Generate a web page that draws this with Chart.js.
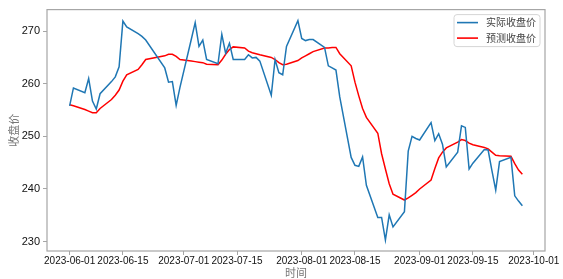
<!DOCTYPE html>
<html><head><meta charset="utf-8">
<script src="https://cdn.jsdelivr.net/npm/chart.js@4.4.1/dist/chart.umd.min.js"></script>
<style>html,body{margin:0;padding:0;background:#fff;overflow:hidden}#wrap{width:563px;height:279px}</style>
</head><body><div id="wrap"><canvas id="c" width="563" height="279"></canvas></div>
<script>
const dates = [
 '2023-06-01','2023-06-02','2023-06-05','2023-06-06','2023-06-07','2023-06-08','2023-06-09','2023-06-12','2023-06-13','2023-06-14',
 '2023-06-15','2023-06-16','2023-06-19','2023-06-20','2023-06-21','2023-06-26','2023-06-27','2023-06-28','2023-06-29','2023-06-30',
 '2023-07-03','2023-07-04','2023-07-05','2023-07-06','2023-07-07','2023-07-10','2023-07-11','2023-07-12','2023-07-13','2023-07-14',
 '2023-07-17','2023-07-18','2023-07-19','2023-07-20','2023-07-21','2023-07-24','2023-07-25','2023-07-26','2023-07-27','2023-07-28','2023-07-31',
 '2023-08-01','2023-08-02','2023-08-03','2023-08-04','2023-08-07','2023-08-08','2023-08-09','2023-08-10','2023-08-11','2023-08-14',
 '2023-08-15','2023-08-16','2023-08-17','2023-08-18','2023-08-21','2023-08-22','2023-08-23','2023-08-24','2023-08-25','2023-08-28',
 '2023-08-29','2023-08-30','2023-08-31',
 '2023-09-01','2023-09-04','2023-09-05','2023-09-06','2023-09-07','2023-09-08','2023-09-11','2023-09-12','2023-09-13','2023-09-14',
 '2023-09-15','2023-09-18','2023-09-19','2023-09-20','2023-09-21','2023-09-22','2023-09-25','2023-09-26','2023-09-27','2023-09-28'
];
const actual = [
 255.8,259.2,258.3,261.0,256.7,255.2,258.1,260.4,261.3,263.2,
 271.9,270.8,269.5,269.0,268.3,263.0,260.3,260.4,255.9,259.3,
 268.5,271.6,267.1,268.3,264.6,263.8,269.4,265.8,267.7,264.6,
 264.6,265.5,264.9,265.0,264.3,257.8,264.6,262.1,261.7,267.1,272.0,
 268.6,268.2,268.4,268.4,266.9,263.4,263.0,262.6,257.5,246.0,
 244.5,244.3,246.1,240.7,234.6,234.6,230.3,235.1,232.8,235.7,
 247.2,250.0,249.6,
 249.3,252.6,249.2,250.5,248.5,244.2,247.0,252.0,251.7,243.8,
 244.9,247.5,247.4,243.5,239.8,245.2,246.0,238.7,237.7,236.8
];
const predicted = [
 256.0,255.8,255.1,254.8,254.5,254.5,255.3,257.0,257.8,258.8,
 260.5,261.7,262.7,263.6,264.6,265.3,265.6,265.6,265.2,264.6,
 264.3,264.2,264.1,264.0,263.7,263.6,264.5,265.6,266.5,267.0,
 266.8,266.2,265.9,265.7,265.5,265.0,264.6,264.0,263.6,263.7,264.4,
 264.9,265.3,265.7,266.1,266.8,266.8,266.9,266.9,265.7,263.4,
 260.3,257.7,255.3,253.6,250.6,246.7,243.8,241.0,239.0,237.9,
 238.3,238.8,239.3,
 240.0,241.7,243.9,245.9,247.0,247.8,248.9,249.4,249.2,248.7,
 248.4,247.9,247.6,247.0,246.4,246.3,246.2,244.8,243.6,242.8
];
const xTickLabels = ['2023-06-01','2023-06-15','2023-07-01','2023-07-15','2023-08-01','2023-08-15','2023-09-01','2023-09-15','2023-10-01'];
const yTickValues = [230,240,250,260,270];
const seriesNames = ['实际收盘价','预测收盘价'];
const seriesColors = ['#1f77b4','#ff0000'];
const xTitle = '时间';
const yTitle = '收盘价';

const DAY = 86400000;
const t0 = Date.parse(dates[0] + 'T00:00:00Z');
const dayOf = s => (Date.parse(s + 'T00:00:00Z') - t0) / DAY;

const xs = dates.map(dayOf);
const xMin0 = Math.min(...xs), xMax0 = Math.max(...xs);
const allY = actual.concat(predicted);
const yMin0 = Math.min(...allY), yMax0 = Math.max(...allY);
const xm = (xMax0 - xMin0) * 0.05, ym = (yMax0 - yMin0) * 0.05;

const CJK = "'Noto Sans CJK SC', sans-serif";
const LAT = "'Liberation Sans', Arial, sans-serif";

const framePlugin = {
  id: 'frame',
  afterDraw(chart) {
    const ctx = chart.ctx, a = chart.chartArea;
    ctx.save();
    ctx.strokeStyle = '#a6a6a6';
    ctx.lineWidth = 1.2;
    ctx.strokeRect(a.left, a.top, a.right - a.left, a.bottom - a.top);
    // legend
    ctx.font = '10px ' + CJK;
    const tw = Math.max(...seriesNames.map(n => ctx.measureText(n).width));
    const w = 32 + tw + 4, h = 32;
    const bx = a.right - 5 - w, by = a.top + 5;
    ctx.beginPath();
    if (ctx.roundRect) ctx.roundRect(bx, by, w, h, 3); else ctx.rect(bx, by, w, h);
    ctx.fillStyle = 'rgba(255,255,255,0.85)';
    ctx.fill();
    ctx.strokeStyle = '#d6d6d6';
    ctx.lineWidth = 1;
    ctx.stroke();
    seriesNames.forEach((n, i) => {
      const yy = by + 8 + i * 15.5;
      ctx.strokeStyle = seriesColors[i];
      ctx.lineWidth = 1.6;
      ctx.beginPath(); ctx.moveTo(bx + 3, yy); ctx.lineTo(bx + 24, yy); ctx.stroke();
      ctx.fillStyle = '#444';
      ctx.textBaseline = 'middle';
      ctx.textAlign = 'left';
      ctx.fillText(n, bx + 32, yy);
    });
    ctx.restore();
  }
};

new Chart(document.getElementById('c'), {
  type: 'line',
  data: {
    datasets: [
      { label: seriesNames[0], data: dates.map((d, i) => ({x: xs[i], y: actual[i]})), borderColor: seriesColors[0], borderWidth: 1.5, pointRadius: 0, tension: 0, fill: false },
      { label: seriesNames[1], data: dates.map((d, i) => ({x: xs[i], y: predicted[i]})), borderColor: seriesColors[1], borderWidth: 1.5, pointRadius: 0, tension: 0, fill: false }
    ]
  },
  options: {
    responsive: false,
    devicePixelRatio: 1,
    animation: false,
    layout: { padding: { top: 4, right: 18, left: 0, bottom: 0 } },
    plugins: { legend: { display: false }, tooltip: { enabled: false } },
    scales: {
      x: {
        type: 'linear',
        min: xMin0 - xm, max: xMax0 + xm,
        afterBuildTicks: s => { s.ticks = xTickLabels.map(l => ({ value: dayOf(l) })); },
        afterFit: s => { s.height = 28; },
        ticks: {
          autoSkip: false, maxRotation: 0, padding: 0,
          color: '#111', font: { family: LAT, size: 10 },
          callback: v => { const l = xTickLabels.find(t => Math.abs(dayOf(t) - v) < 0.01); return l || ''; }
        },
        grid: { drawOnChartArea: false, drawTicks: true, tickLength: 4, color: '#a6a6a6' },
        border: { display: false },
        title: { display: true, text: xTitle, color: '#777', font: { family: CJK, size: 11 }, padding: { top: 0, bottom: 0 } }
      },
      y: {
        type: 'linear',
        min: yMin0 - ym, max: yMax0 + ym,
        afterBuildTicks: s => { s.ticks = yTickValues.map(v => ({ value: v })); },
        afterFit: s => { s.width = 47; },
        ticks: { padding: 3, color: '#111', font: { family: LAT, size: 11 }, callback: v => String(v) },
        grid: { drawOnChartArea: false, drawTicks: true, tickLength: 4, color: '#a6a6a6' },
        border: { display: false },
        title: { display: true, text: yTitle, color: '#777', font: { family: CJK, size: 11 }, padding: { top: 7, bottom: 0 } }
      }
    }
  },
  plugins: [framePlugin]
});
</script></body></html>
